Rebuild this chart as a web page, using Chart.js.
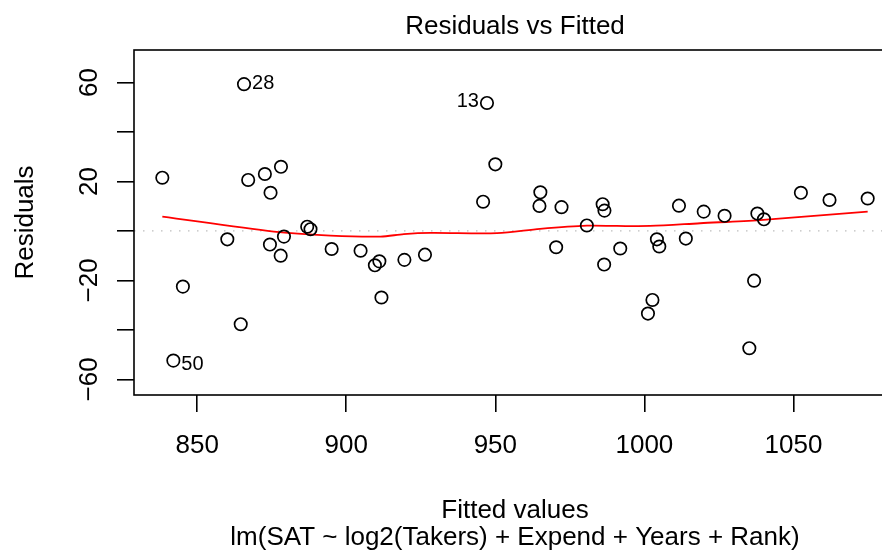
<!DOCTYPE html>
<html>
<head>
<meta charset="utf-8">
<title>Residuals vs Fitted</title>
<script src="https://cdn.jsdelivr.net/npm/chart.js@4.4.0/dist/chart.umd.min.js"></script>
<style>
  html, body { margin: 0; padding: 0; background: #fff; overflow: hidden; }
  #wrap { position: relative; width: 882px; height: 554px; overflow: hidden; }
  #residChart { position: absolute; left: 0; top: 0; }
</style>
</head>
<body>
<div id="wrap"><canvas id="residChart" width="930" height="554"></canvas></div>
<script>
// fitted values and residuals
const fitted = [838.3, 842.0, 845.2, 860.1, 864.6, 865.7, 867.1, 872.7, 874.4, 874.6,
  878.0, 878.1, 879.1, 886.9, 888.0, 895.1, 904.8, 909.6, 911.1, 911.8,
  919.5, 926.4, 945.9, 947.2, 950.0, 964.8, 965.1, 970.4, 972.2, 980.7,
  986.0, 986.5, 986.6, 991.9, 1001.2, 1002.7, 1004.2, 1005.0, 1011.6, 1013.9,
  1019.9, 1026.9, 1035.2, 1036.8, 1037.9, 1040.1, 1052.5, 1062.1, 1074.9];
const residuals = [21.5, -52.4, -22.5, -3.4, -37.7, 59.3, 20.6, 23.0, -5.5, 15.4,
  -10.0, 25.9, -2.3, 1.7, 0.7, -7.3, -8.0, -13.9, -12.3, -26.9,
  -11.7, -9.6, 11.8, 51.7, 26.9, 10.1, 15.6, -6.6, 9.6, 2.2,
  10.8, -13.6, 8.2, -7.1, -33.4, -27.9, -3.4, -6.3, 10.2, -3.1,
  7.8, 6.1, -47.4, -20.1, 7.0, 4.7, 15.4, 12.5, 13.1];

// smoother (red line)
const smoothX = [838.3, 875.7, 894.7, 911.5, 919.3, 928.2, 950.6, 965.0, 980.7, 990.8, 1001.9, 1018.7, 1038.8, 1074.9];
const smoothY = [5.8, -0.3, -1.9, -2.3, -1.3, -0.8, -0.9, 0.8, 2.1, 2.0, 2.0, 3.1, 4.4, 7.8];

// labelled observations (index into arrays above)
const idIndex = [5, 23, 1];
const idText = ['28', '13', '50'];
const idSide = ['right', 'left', 'right'];

const xTicks = [850, 900, 950, 1000, 1050];
const yTicks = [-60, -40, -20, 0, 20, 40, 60];
const yTickLabels = [-60, -20, 20, 60];
const xRange = [828.8, 1084.4];
const yRange = [-66.3, 73.1];

const FONT = '"Liberation Sans", Arial, Helvetica, sans-serif';

const rStyle = {
  id: 'rStyle',
  beforeDatasetsDraw(chart) {
    const { ctx, chartArea: a, scales: { y } } = chart;
    const y0 = y.getPixelForValue(0);
    ctx.save();
    ctx.strokeStyle = '#BEBEBE';
    ctx.lineWidth = 1.3;
    ctx.setLineDash([1.5, 7.5]);
    ctx.beginPath();
    ctx.moveTo(a.left, y0);
    ctx.lineTo(a.right, y0);
    ctx.stroke();
    ctx.restore();
  },
  afterDraw(chart) {
    const { ctx, chartArea: a, scales: { x, y } } = chart;
    ctx.save();
    // box
    ctx.strokeStyle = '#000';
    ctx.lineWidth = 1.6;
    ctx.strokeRect(a.left, a.top, a.right - a.left, a.bottom - a.top);

    ctx.fillStyle = '#000';
    ctx.font = '26px ' + FONT;
    const cx = (a.left + a.right) / 2;

    // title
    ctx.textAlign = 'center';
    ctx.textBaseline = 'alphabetic';
    ctx.fillText('Residuals vs Fitted', cx, 34);

    // x tick labels
    xTicks.forEach(v => ctx.fillText(String(v), x.getPixelForValue(v), 453));

    // x axis title + caption
    ctx.fillText('Fitted values', cx, 518);
    ctx.fillText('lm(SAT ~ log2(Takers) + Expend + Years + Rank)', cx, 545);

    // y tick labels, rotated like R
    yTickLabels.forEach(v => {
      ctx.save();
      ctx.translate(97, y.getPixelForValue(v));
      ctx.rotate(-Math.PI / 2);
      ctx.fillText(v < 0 ? '\u2212' + Math.abs(v) : String(v), 0, 0);
      ctx.restore();
    });

    // y axis title
    ctx.save();
    ctx.translate(33, (a.top + a.bottom) / 2);
    ctx.rotate(-Math.PI / 2);
    ctx.fillText('Residuals', 0, 0);
    ctx.restore();

    // point ids
    ctx.font = '20px ' + FONT;
    ctx.textBaseline = 'middle';
    idIndex.forEach((i, k) => {
      const px = x.getPixelForValue(fitted[i]);
      const py = y.getPixelForValue(residuals[i]) + (residuals[i] < 0 ? 4 : -1);
      if (idSide[k] === 'left') {
        ctx.textAlign = 'right';
        ctx.fillText(idText[k], px - 8, py);
      } else {
        ctx.textAlign = 'left';
        ctx.fillText(idText[k], px + 8, py);
      }
    });
    ctx.restore();
  }
};

const axisGrid = { display: true, drawOnChartArea: false, drawTicks: true, tickLength: 17, color: '#000', lineWidth: 1.6 };

const ctx = document.getElementById('residChart').getContext('2d');
new Chart(ctx, {
  type: 'scatter',
  data: {
    datasets: [
      {
        label: 'Residuals',
        data: fitted.map((f, i) => ({ x: f, y: residuals[i] })),
        pointStyle: 'circle',
        pointRadius: 6.2,
        pointBorderWidth: 1.7,
        borderColor: '#000',
        backgroundColor: 'rgba(0,0,0,0)'
      },
      {
        type: 'line',
        label: 'smooth',
        data: smoothX.map((f, i) => ({ x: f, y: smoothY[i] })),
        borderColor: '#FF0000',
        borderWidth: 1.8,
        pointRadius: 0,
        fill: false,
        tension: 0.3
      }
    ]
  },
  options: {
    responsive: false,
    animation: false,
    layout: { padding: { left: 117, top: 50, right: 34, bottom: 142 }, autoPadding: false },
    plugins: { legend: { display: false }, tooltip: { enabled: false } },
    scales: {
      x: {
        type: 'linear',
        min: xRange[0],
        max: xRange[1],
        afterBuildTicks: s => { s.ticks = xTicks.map(v => ({ value: v })); },
        grid: axisGrid,
        border: { display: false },
        ticks: { display: false }
      },
      y: {
        type: 'linear',
        min: yRange[0],
        max: yRange[1],
        afterBuildTicks: s => { s.ticks = yTicks.map(v => ({ value: v })); },
        grid: axisGrid,
        border: { display: false },
        ticks: { display: false }
      }
    }
  },
  plugins: [rStyle]
});
</script>
</body>
</html>
